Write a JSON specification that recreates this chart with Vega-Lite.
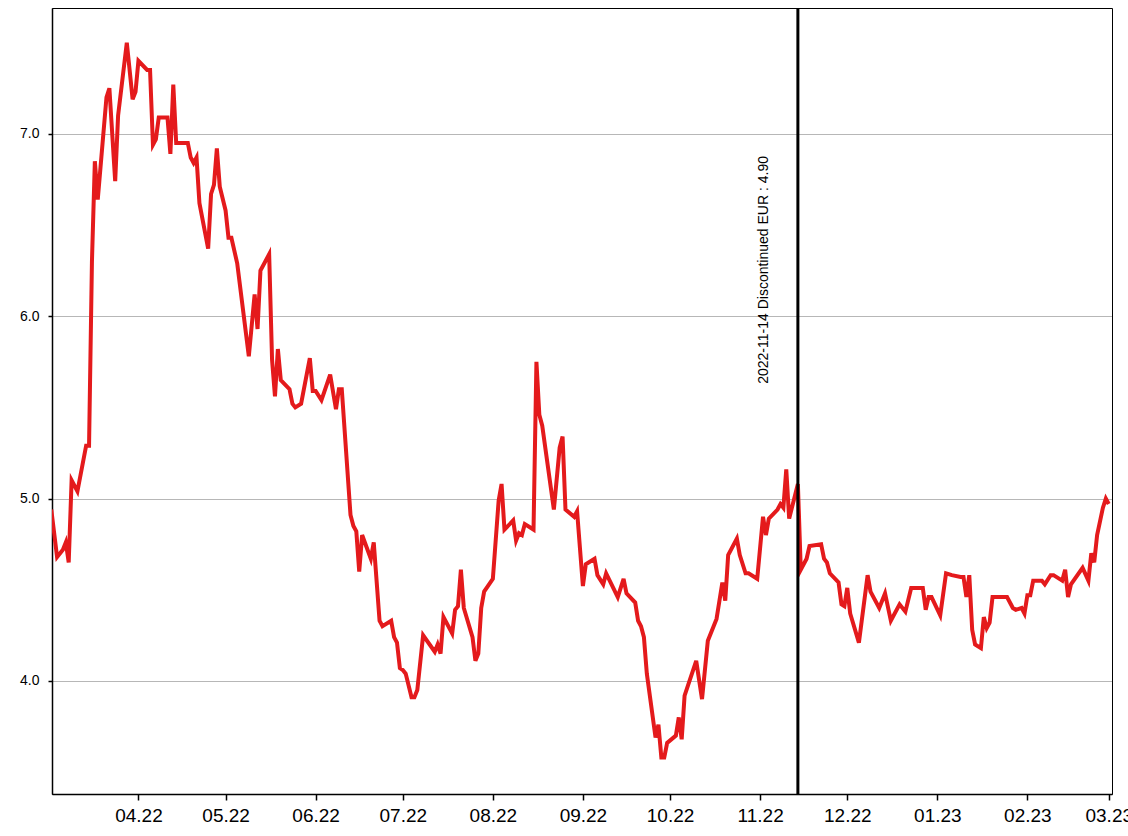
{
  "$schema": "https://vega.github.io/schema/vega-lite/v6.json",
  "width": 1060,
  "height": 786,
  "autosize": {"type": "none"},
  "padding": {"left": 52, "top": 8, "right": 16, "bottom": 42},
  "background": "white",
  "config": {
    "font": "Liberation Sans",
    "view": {"stroke": "black", "strokeWidth": 1},
    "axis": {"labelFont": "Liberation Sans", "labelColor": "black", "domainColor": "black", "tickColor": "black", "domainWidth": 1.5, "tickWidth": 1.5}
  },
  "datasets": {
    "prices": [
      {"d": "2022-03-02", "v": 4.94}, {"d": "2022-03-04", "v": 4.68}, {"d": "2022-03-06", "v": 4.72}, {"d": "2022-03-07", "v": 4.76},
      {"d": "2022-03-08", "v": 4.65}, {"d": "2022-03-09", "v": 5.10}, {"d": "2022-03-11", "v": 5.04}, {"d": "2022-03-14", "v": 5.29},
      {"d": "2022-03-15", "v": 5.29}, {"d": "2022-03-16", "v": 6.30}, {"d": "2022-03-17", "v": 6.85}, {"d": "2022-03-18", "v": 6.64},
      {"d": "2022-03-21", "v": 7.20}, {"d": "2022-03-22", "v": 7.25}, {"d": "2022-03-24", "v": 6.74}, {"d": "2022-03-25", "v": 7.10},
      {"d": "2022-03-28", "v": 7.50}, {"d": "2022-03-30", "v": 7.19}, {"d": "2022-03-31", "v": 7.23}, {"d": "2022-04-01", "v": 7.40},
      {"d": "2022-04-04", "v": 7.35}, {"d": "2022-04-05", "v": 7.35}, {"d": "2022-04-06", "v": 6.94}, {"d": "2022-04-07", "v": 6.97},
      {"d": "2022-04-08", "v": 7.09}, {"d": "2022-04-11", "v": 7.09}, {"d": "2022-04-12", "v": 6.89}, {"d": "2022-04-13", "v": 7.27},
      {"d": "2022-04-14", "v": 6.95}, {"d": "2022-04-18", "v": 6.95}, {"d": "2022-04-19", "v": 6.87}, {"d": "2022-04-20", "v": 6.84},
      {"d": "2022-04-21", "v": 6.87}, {"d": "2022-04-22", "v": 6.62}, {"d": "2022-04-25", "v": 6.37}, {"d": "2022-04-26", "v": 6.67},
      {"d": "2022-04-27", "v": 6.72}, {"d": "2022-04-28", "v": 6.92}, {"d": "2022-04-29", "v": 6.71}, {"d": "2022-05-01", "v": 6.58},
      {"d": "2022-05-02", "v": 6.43}, {"d": "2022-05-03", "v": 6.43}, {"d": "2022-05-05", "v": 6.29}, {"d": "2022-05-09", "v": 5.78},
      {"d": "2022-05-11", "v": 6.12}, {"d": "2022-05-12", "v": 5.93}, {"d": "2022-05-13", "v": 6.25}, {"d": "2022-05-16", "v": 6.34},
      {"d": "2022-05-17", "v": 5.76}, {"d": "2022-05-18", "v": 5.56}, {"d": "2022-05-19", "v": 5.82}, {"d": "2022-05-20", "v": 5.65},
      {"d": "2022-05-23", "v": 5.60}, {"d": "2022-05-24", "v": 5.52}, {"d": "2022-05-25", "v": 5.50}, {"d": "2022-05-27", "v": 5.52},
      {"d": "2022-05-30", "v": 5.77}, {"d": "2022-05-31", "v": 5.59}, {"d": "2022-06-01", "v": 5.59}, {"d": "2022-06-03", "v": 5.54},
      {"d": "2022-06-06", "v": 5.68}, {"d": "2022-06-08", "v": 5.49}, {"d": "2022-06-09", "v": 5.60}, {"d": "2022-06-10", "v": 5.60},
      {"d": "2022-06-13", "v": 4.91}, {"d": "2022-06-14", "v": 4.85}, {"d": "2022-06-15", "v": 4.82}, {"d": "2022-06-16", "v": 4.60},
      {"d": "2022-06-17", "v": 4.80}, {"d": "2022-06-20", "v": 4.67}, {"d": "2022-06-21", "v": 4.76}, {"d": "2022-06-23", "v": 4.33},
      {"d": "2022-06-24", "v": 4.30}, {"d": "2022-06-27", "v": 4.33}, {"d": "2022-06-28", "v": 4.24}, {"d": "2022-06-29", "v": 4.21},
      {"d": "2022-06-30", "v": 4.07}, {"d": "2022-07-01", "v": 4.06}, {"d": "2022-07-02", "v": 4.04}, {"d": "2022-07-04", "v": 3.91},
      {"d": "2022-07-05", "v": 3.91}, {"d": "2022-07-06", "v": 3.95}, {"d": "2022-07-08", "v": 4.25}, {"d": "2022-07-12", "v": 4.16},
      {"d": "2022-07-13", "v": 4.20}, {"d": "2022-07-14", "v": 4.15}, {"d": "2022-07-15", "v": 4.35}, {"d": "2022-07-18", "v": 4.26},
      {"d": "2022-07-19", "v": 4.39}, {"d": "2022-07-20", "v": 4.41}, {"d": "2022-07-21", "v": 4.61}, {"d": "2022-07-22", "v": 4.40},
      {"d": "2022-07-25", "v": 4.24}, {"d": "2022-07-26", "v": 4.11}, {"d": "2022-07-27", "v": 4.15}, {"d": "2022-07-28", "v": 4.40},
      {"d": "2022-07-29", "v": 4.49}, {"d": "2022-08-01", "v": 4.56}, {"d": "2022-08-03", "v": 4.99}, {"d": "2022-08-04", "v": 5.08},
      {"d": "2022-08-05", "v": 4.83}, {"d": "2022-08-08", "v": 4.88}, {"d": "2022-08-09", "v": 4.77}, {"d": "2022-08-10", "v": 4.81},
      {"d": "2022-08-11", "v": 4.80}, {"d": "2022-08-12", "v": 4.86}, {"d": "2022-08-15", "v": 4.83}, {"d": "2022-08-16", "v": 5.75},
      {"d": "2022-08-17", "v": 5.46}, {"d": "2022-08-18", "v": 5.40}, {"d": "2022-08-22", "v": 4.94}, {"d": "2022-08-24", "v": 5.28},
      {"d": "2022-08-25", "v": 5.34}, {"d": "2022-08-26", "v": 4.94}, {"d": "2022-08-29", "v": 4.90}, {"d": "2022-08-30", "v": 4.93},
      {"d": "2022-09-01", "v": 4.52}, {"d": "2022-09-02", "v": 4.64}, {"d": "2022-09-05", "v": 4.67}, {"d": "2022-09-06", "v": 4.58},
      {"d": "2022-09-08", "v": 4.53}, {"d": "2022-09-09", "v": 4.59}, {"d": "2022-09-13", "v": 4.46}, {"d": "2022-09-15", "v": 4.56},
      {"d": "2022-09-16", "v": 4.48}, {"d": "2022-09-19", "v": 4.43}, {"d": "2022-09-20", "v": 4.33}, {"d": "2022-09-21", "v": 4.30},
      {"d": "2022-09-22", "v": 4.24}, {"d": "2022-09-23", "v": 4.04}, {"d": "2022-09-26", "v": 3.69}, {"d": "2022-09-27", "v": 3.76},
      {"d": "2022-09-28", "v": 3.58}, {"d": "2022-09-29", "v": 3.58}, {"d": "2022-09-30", "v": 3.66}, {"d": "2022-10-03", "v": 3.70},
      {"d": "2022-10-04", "v": 3.80}, {"d": "2022-10-05", "v": 3.68}, {"d": "2022-10-06", "v": 3.92}, {"d": "2022-10-10", "v": 4.11},
      {"d": "2022-10-12", "v": 3.90}, {"d": "2022-10-14", "v": 4.22}, {"d": "2022-10-17", "v": 4.34}, {"d": "2022-10-19", "v": 4.54},
      {"d": "2022-10-20", "v": 4.44}, {"d": "2022-10-21", "v": 4.69}, {"d": "2022-10-24", "v": 4.78}, {"d": "2022-10-25", "v": 4.69},
      {"d": "2022-10-27", "v": 4.59}, {"d": "2022-10-28", "v": 4.59}, {"d": "2022-10-31", "v": 4.56}, {"d": "2022-11-02", "v": 4.90},
      {"d": "2022-11-03", "v": 4.80}, {"d": "2022-11-04", "v": 4.89}, {"d": "2022-11-07", "v": 4.94}, {"d": "2022-11-08", "v": 4.97},
      {"d": "2022-11-09", "v": 4.95}, {"d": "2022-11-10", "v": 5.16}, {"d": "2022-11-11", "v": 4.89}, {"d": "2022-11-14", "v": 5.08},
      {"d": "2022-11-15", "v": 4.61}, {"d": "2022-11-17", "v": 4.67}, {"d": "2022-11-18", "v": 4.74}, {"d": "2022-11-22", "v": 4.75},
      {"d": "2022-11-23", "v": 4.67}, {"d": "2022-11-24", "v": 4.65}, {"d": "2022-11-25", "v": 4.59}, {"d": "2022-11-28", "v": 4.54},
      {"d": "2022-11-29", "v": 4.42}, {"d": "2022-11-30", "v": 4.41}, {"d": "2022-12-01", "v": 4.51}, {"d": "2022-12-02", "v": 4.37},
      {"d": "2022-12-05", "v": 4.21}, {"d": "2022-12-08", "v": 4.58}, {"d": "2022-12-09", "v": 4.49}, {"d": "2022-12-12", "v": 4.40},
      {"d": "2022-12-14", "v": 4.48}, {"d": "2022-12-16", "v": 4.33}, {"d": "2022-12-19", "v": 4.42}, {"d": "2022-12-21", "v": 4.38},
      {"d": "2022-12-23", "v": 4.51}, {"d": "2022-12-27", "v": 4.51}, {"d": "2022-12-28", "v": 4.39}, {"d": "2022-12-29", "v": 4.46},
      {"d": "2022-12-30", "v": 4.46}, {"d": "2023-01-02", "v": 4.36}, {"d": "2023-01-04", "v": 4.59}, {"d": "2023-01-06", "v": 4.58},
      {"d": "2023-01-09", "v": 4.57}, {"d": "2023-01-10", "v": 4.57}, {"d": "2023-01-11", "v": 4.46}, {"d": "2023-01-12", "v": 4.58},
      {"d": "2023-01-13", "v": 4.28}, {"d": "2023-01-14", "v": 4.20}, {"d": "2023-01-16", "v": 4.18}, {"d": "2023-01-17", "v": 4.35},
      {"d": "2023-01-18", "v": 4.29}, {"d": "2023-01-19", "v": 4.32}, {"d": "2023-01-20", "v": 4.46}, {"d": "2023-01-25", "v": 4.46},
      {"d": "2023-01-27", "v": 4.40}, {"d": "2023-01-28", "v": 4.39}, {"d": "2023-01-30", "v": 4.40}, {"d": "2023-01-31", "v": 4.37},
      {"d": "2023-02-01", "v": 4.47}, {"d": "2023-02-02", "v": 4.47}, {"d": "2023-02-03", "v": 4.55}, {"d": "2023-02-06", "v": 4.55},
      {"d": "2023-02-07", "v": 4.53}, {"d": "2023-02-09", "v": 4.58}, {"d": "2023-02-10", "v": 4.58}, {"d": "2023-02-13", "v": 4.55},
      {"d": "2023-02-14", "v": 4.61}, {"d": "2023-02-15", "v": 4.46}, {"d": "2023-02-16", "v": 4.53}, {"d": "2023-02-20", "v": 4.62},
      {"d": "2023-02-22", "v": 4.55}, {"d": "2023-02-23", "v": 4.70}, {"d": "2023-02-24", "v": 4.65}, {"d": "2023-02-25", "v": 4.80},
      {"d": "2023-02-27", "v": 4.95}, {"d": "2023-02-28", "v": 5.00}, {"d": "2023-03-01", "v": 4.97}
    ],
    "events": [
      {"d": "2022-11-14", "v": 4.90, "label": "2022-11-14 Discontinued EUR : 4.90"}
    ]
  },
  "layer": [
    {
      "data": {"name": "prices"},
      "mark": {"type": "line", "color": "#e41a1c", "strokeWidth": 4, "clip": true},
      "encoding": {
        "x": {
          "field": "d", "type": "temporal", "title": null,
          "scale": {"type": "utc", "domain": [{"year": 2022, "month": 3, "date": 2, "hours": 6, "utc": true}, {"year": 2023, "month": 3, "date": 2, "hours": 3, "utc": true}]},
          "axis": {
            "values": [
              {"year": 2022, "month": 4, "date": 1, "utc": true}, {"year": 2022, "month": 5, "date": 1, "utc": true},
              {"year": 2022, "month": 6, "date": 1, "utc": true}, {"year": 2022, "month": 7, "date": 1, "utc": true},
              {"year": 2022, "month": 8, "date": 1, "utc": true}, {"year": 2022, "month": 9, "date": 1, "utc": true},
              {"year": 2022, "month": 10, "date": 1, "utc": true}, {"year": 2022, "month": 11, "date": 1, "utc": true},
              {"year": 2022, "month": 12, "date": 1, "utc": true}, {"year": 2023, "month": 1, "date": 1, "utc": true},
              {"year": 2023, "month": 2, "date": 1, "utc": true}, {"year": 2023, "month": 3, "date": 1, "utc": true}
            ],
            "format": "%m.%y", "grid": false, "labelFontSize": 19, "tickSize": 6, "labelPadding": 6,
            "labelFlush": false, "labelOverlap": false, "labelBound": false
          }
        },
        "y": {
          "field": "v", "type": "quantitative", "title": null,
          "scale": {"domain": [3.38, 7.69], "zero": false, "nice": false},
          "axis": {
            "values": [4, 5, 6, 7], "format": ".1f", "labelFontSize": 14, "tickSize": 4, "labelPadding": 9,
            "grid": true, "gridColor": "#6e6e6e", "gridDash": [1, 1], "gridWidth": 1
          }
        }
      }
    },
    {
      "data": {"name": "events"},
      "mark": {"type": "rule", "color": "black", "strokeWidth": 3},
      "encoding": {"x": {"field": "d", "type": "temporal"}}
    },
    {
      "data": {"name": "events"},
      "mark": {"type": "text", "angle": 270, "align": "left", "baseline": "alphabetic", "dx": 133, "dy": -30, "fontSize": 14, "font": "Liberation Sans", "color": "black"},
      "encoding": {
        "x": {"field": "d", "type": "temporal"},
        "y": {"field": "v", "type": "quantitative"},
        "text": {"field": "label"}
      }
    }
  ]
}
